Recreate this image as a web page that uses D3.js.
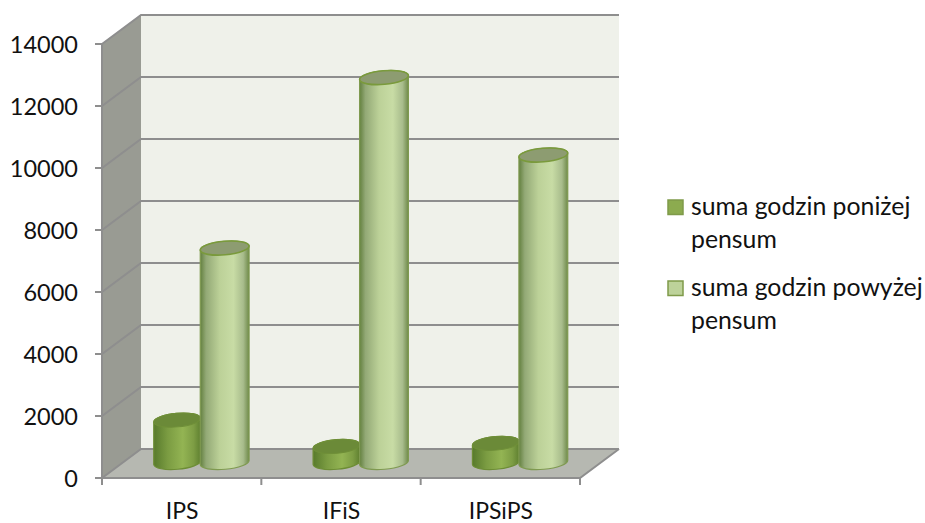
<!DOCTYPE html>
<html><head><meta charset="utf-8">
<script src="https://cdnjs.cloudflare.com/ajax/libs/d3/7.8.5/d3.min.js"></script>
<style>html,body{margin:0;background:#fff}svg{display:block}text{font-family:Lato,"Open Sans",sans-serif;fill:#111}</style>
</head><body><svg id="c" width="925" height="523"></svg>
<script>
const categories = ["IPS","IFiS","IPSiPS"];
const seriesNames = ["suma godzin poniżej","suma godzin powyżej"];
const below = [1400,550,650];
const above = [6950,12450,9950];
const yTicks = [0,2000,4000,6000,8000,10000,12000,14000];

const svg = d3.select("#c");
const dx = 39, dy = -29;
const x = d3.scaleBand().domain(categories).range([102,580]);
const y = d3.scaleLinear().domain([0,14000]).range([478,44]);
const seriesBand = d3.scaleBand().domain([0,1]).range([-48,48]);
const defs = svg.append("defs");
function grad(id,stops){
  const g = defs.append("linearGradient").attr("id",id);
  stops.forEach(s=>g.append("stop").attr("offset",s[0]).attr("stop-color",s[1]));
}
grad("gd",[[0,"#587a2c"],[.3,"#7b9c42"],[.62,"#93b453"],[.85,"#7d9d44"],[1,"#5f8030"]]);
grad("gl",[[0,"#63803f"],[.12,"#93a976"],[.4,"#bcd198"],[.68,"#c8dca5"],[.88,"#a8bc8c"],[1,"#6f8a4a"]]);
const wall="#eff1ea", side="#999b93", floor="#b6b8b1", line="#8e8e8e";
const x0=x.range()[0], x1=x.range()[1], y0=y(0), yT=y(14000);
// walls
svg.append("rect").attr("x",x0+dx).attr("y",yT+dy).attr("width",x1-x0).attr("height",y0-yT).attr("fill",wall);
svg.append("path").attr("fill",side).attr("d",`M${x0},${y0}L${x0+dx},${y0+dy}L${x0+dx},${yT+dy}L${x0},${yT}Z`);
svg.append("path").attr("fill",floor).attr("d",`M${x0},${y0}L${x0+dx},${y0+dy}L${x1+dx},${y0+dy}L${x1},${y0}Z`);
// grid
yTicks.forEach(t=>{
  const yy=y(t);
  svg.append("path").attr("fill","none").attr("stroke",line).attr("stroke-width",2)
    .attr("d",`M${x0-7},${yy}L${x0},${yy}L${x0+dx},${yy+dy}L${x1+dx},${yy+dy}`);
  svg.append("text").attr("x",78).attr("y",yy+9).attr("text-anchor","end").attr("font-size",23.5).text(t);
});
svg.append("path").attr("fill","none").attr("stroke",line).attr("stroke-width",2)
  .attr("d",`M${x0},${yT}L${x0},${y0}L${x1},${y0}L${x1+dx},${y0+dy}`);
[...categories.map(c=>x(c)),x1].forEach(v=>{
  svg.append("line").attr("x1",v).attr("x2",v).attr("y1",y0).attr("y2",y0+7).attr("stroke",line).attr("stroke-width",2);
});
categories.forEach(c=>{
  svg.append("text").attr("x",x(c)+x.bandwidth()/2+0.5).attr("y",519).attr("text-anchor","middle").attr("font-size",23).text(c);
});
// cylinders
const tilt=-5, rad=tilt*Math.PI/180, ry=6.8;
function cyl(cat,val,si){
  const cx=x(cat)+x.bandwidth()/2+dx/2+seriesBand(si)+seriesBand.bandwidth()/2+(si?-0.5:0);
  const rx=seriesBand.bandwidth()/2+(si?0.5:-0.5);
  const yb=y(0)+dy/2-1, yt=y(val)+dy/2;
  const ox=rx*Math.cos(rad), oy=rx*Math.sin(rad);
  const arc=`A${rx},${ry} ${tilt} 0 `;
  const g=svg.append("g");
  g.append("path").attr("fill",si?"url(#gl)":"url(#gd)").attr("stroke",si?"#7f9a50":"#6d8d35").attr("stroke-width",1.2)
   .attr("d",`M${cx-ox},${yt-oy}L${cx-ox},${yb-oy}${arc}0 ${cx+ox},${yb+oy}L${cx+ox},${yt+oy}${arc}0 ${cx-ox},${yt-oy}Z`);
  g.append("ellipse").attr("cx",cx).attr("cy",yt).attr("rx",rx).attr("ry",ry)
   .attr("transform",`rotate(${tilt} ${cx} ${yt})`)
   .attr("fill",si?"#8d9c71":"#6b8a38").attr("stroke",si?"#7a9a3c":"#6f8f38").attr("stroke-width",si?1.6:1);
}
categories.forEach((c,i)=>cyl(c,below[i],0));
categories.forEach((c,i)=>cyl(c,above[i],1));
// legend
const leg=[{ys:200,b:[215,248],f:"#8cab4f"},{ys:281,b:[296,329],f:"#bdd29a"}];
leg.forEach((l,i)=>{
  svg.append("rect").attr("x",668).attr("y",l.ys).attr("width",15).attr("height",14.5).attr("fill",l.f).attr("stroke","#7f9a4a").attr("stroke-width",1.5);
  svg.append("text").attr("x",691).attr("y",l.b[0]).attr("font-size",24.8).text(seriesNames[i]);
  svg.append("text").attr("x",691).attr("y",l.b[1]).attr("font-size",24.8).text("pensum");
});
</script></body></html>
